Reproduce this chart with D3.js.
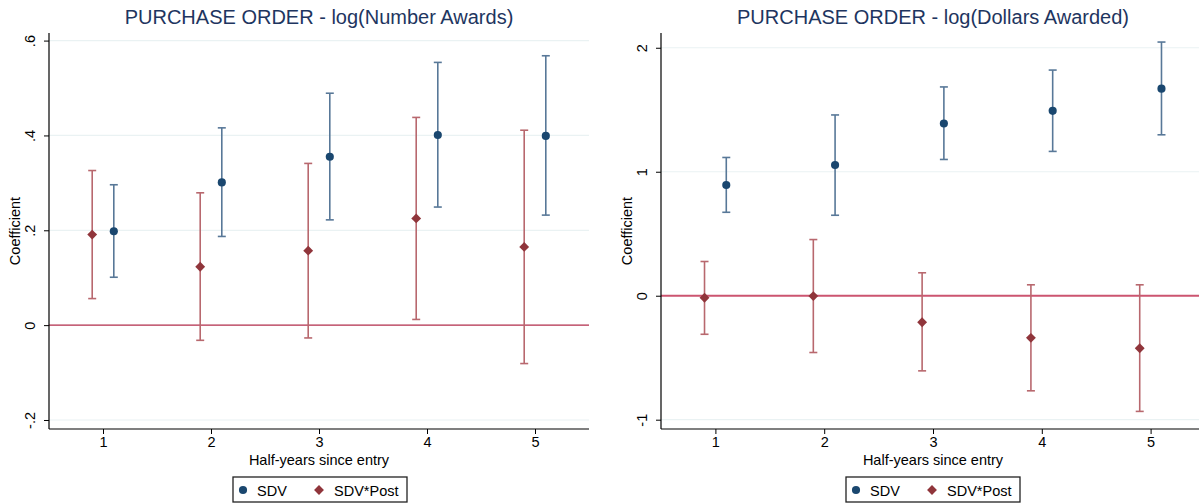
<!DOCTYPE html>
<html><head><meta charset="utf-8">
<script src="https://cdn.jsdelivr.net/npm/d3@7"></script>
<style>
html,body{margin:0;padding:0;background:#fff;}
svg{display:block;font-family:"Liberation Sans",Arial,sans-serif;}
</style></head>
<body>
<svg id="chart" width="1199" height="504"></svg>
<script>
// ---- data ----
const halfYears = [1, 2, 3, 4, 5];
const seriesNames = ["SDV", "SDV*Post"];

// Panel 1: log(Number Awards)
const numSdv   = [0.198, 0.301, 0.355, 0.401, 0.399];
const numSdvLo = [0.101, 0.187, 0.222, 0.249, 0.232];
const numSdvHi = [0.296, 0.416, 0.489, 0.554, 0.568];
const numPost   = [0.191, 0.123, 0.157, 0.225, 0.165];
const numPostLo = [0.056, -0.032, -0.027, 0.012, -0.081];
const numPostHi = [0.326, 0.279, 0.341, 0.438, 0.411];
const numTicks = [-0.2, 0, 0.2, 0.4, 0.6];
const numTickLabels = ["-.2", "0", ".2", ".4", ".6"];

// Panel 2: log(Dollars Awarded)
const dolSdv   = [0.893, 1.054, 1.389, 1.491, 1.670];
const dolSdvLo = [0.673, 0.649, 1.099, 1.164, 1.298];
const dolSdvHi = [1.115, 1.458, 1.684, 1.820, 2.046];
const dolPost   = [-0.016, -0.003, -0.214, -0.340, -0.424];
const dolPostLo = [-0.311, -0.458, -0.606, -0.767, -0.933];
const dolPostHi = [0.276, 0.453, 0.185, 0.088, 0.088];
const dolTicks = [-1, 0, 1, 2];
const dolTickLabels = ["-1", "0", "1", "2"];

const titles = ["PURCHASE ORDER - log(Number Awards)", "PURCHASE ORDER - log(Dollars Awarded)"];
const xTitle = "Half-years since entry";
const yTitle = "Coefficient";

// ---- drawing ----
const svg = d3.select("#chart");
const NAVY = "#1a476f", MAROON = "#90353b";
const FS = 14.5;

function panel(o) {
  const g = svg.append("g");
  const x = d3.scaleLinear().domain([0.5, 5.5]).range([o.left, o.right]);
  const y = d3.scaleLinear().domain(o.yDomain).range([o.bottom, o.top]);

  // gridlines
  g.selectAll(".grid").data(o.ticks).enter().append("line")
    .attr("x1", o.left).attr("x2", o.right)
    .attr("y1", d => y(d)).attr("y2", d => y(d))
    .attr("stroke", "#eaf2f3").attr("stroke-width", 1.2);

  // zero reference line
  g.append("line").attr("x1", o.left).attr("x2", o.right)
    .attr("y1", y(0)).attr("y2", y(0))
    .attr("stroke", o.zeroColor).attr("stroke-width", o.zeroWidth);

  // y axis
  const ya = d3.axisLeft(y).tickValues(o.ticks).tickFormat((d, i) => o.tickLabels[i]).tickSize(5).tickPadding(4);
  const yg = g.append("g").attr("transform", `translate(${o.left},0)`).call(ya);
  yg.select(".domain").attr("d", `M0,${o.top}V${o.bottom}`).attr("stroke", "#000").attr("stroke-width", 1.2);
  yg.selectAll(".tick line").attr("stroke", "#000");
  yg.selectAll(".tick text")
    .attr("transform", "rotate(-90)")
    .attr("x", 0).attr("y", -14).attr("dy", 0)
    .attr("text-anchor", "middle")
    .attr("font-size", FS).attr("fill", "#000");

  // x axis
  const xa = d3.axisBottom(x).tickValues(halfYears).tickFormat(d3.format("d")).tickSize(5).tickPadding(3);
  const xg = g.append("g").attr("transform", `translate(0,${o.bottom})`).call(xa);
  xg.select(".domain").attr("d", `M${o.left},0H${o.right}`).attr("stroke", "#000").attr("stroke-width", 1.2);
  xg.selectAll(".tick line").attr("stroke", "#000");
  xg.selectAll(".tick text").attr("font-size", FS).attr("fill", "#000");

  // titles
  g.append("text").attr("x", (o.left + o.right) / 2).attr("y", 24)
    .attr("text-anchor", "middle").attr("font-size", 20).attr("fill", "#1e3560")
    .text(o.title);
  g.append("text").attr("x", (o.left + o.right) / 2).attr("y", 465)
    .attr("text-anchor", "middle").attr("font-size", FS).attr("fill", "#000")
    .text(xTitle);
  g.append("text").attr("transform", `translate(${o.left - 29},${(o.top + o.bottom) / 2}) rotate(-90)`)
    .attr("text-anchor", "middle").attr("font-size", FS).attr("fill", "#000")
    .text(yTitle);

  const series = [
    {vals: o.sdv, lo: o.sdvLo, hi: o.sdvHi, off: 0.1, color: NAVY, ci: "#587898", shape: "circle"},
    {vals: o.post, lo: o.postLo, hi: o.postHi, off: -0.1, color: MAROON, ci: "#b8686e", shape: "diamond"}
  ];
  series.forEach(s => {
    const pts = halfYears.map((h, i) => ({h, v: s.vals[i], lo: s.lo[i], hi: s.hi[i]}));
    const sg = g.append("g");
    sg.selectAll(".ci").data(pts).enter().append("line")
      .attr("x1", d => x(d.h + s.off)).attr("x2", d => x(d.h + s.off))
      .attr("y1", d => y(d.lo)).attr("y2", d => y(d.hi))
      .attr("stroke", s.ci).attr("stroke-width", 1.6);
    ["lo", "hi"].forEach(k => {
      sg.selectAll(".cap" + k).data(pts).enter().append("line")
        .attr("x1", d => x(d.h + s.off) - 4).attr("x2", d => x(d.h + s.off) + 4)
        .attr("y1", d => y(d[k])).attr("y2", d => y(d[k]))
        .attr("stroke", s.ci).attr("stroke-width", 1.6);
    });
    const sym = s.shape === "circle" ? d3.symbol(d3.symbolCircle, 52) : d3.symbol(d3.symbolDiamond2, 62);
    sg.selectAll(".pt").data(pts).enter().append("path")
      .attr("d", sym)
      .attr("transform", d => `translate(${x(d.h + s.off)},${y(d.v)})`)
      .attr("fill", s.color);
  });

  // legend
  const lg = g.append("g");
  lg.append("rect").attr("x", o.legX).attr("y", 477).attr("width", 174).attr("height", 25)
    .attr("fill", "#fff").attr("stroke", "#222").attr("stroke-width", 1.3);
  lg.append("path").attr("d", d3.symbol(d3.symbolCircle, 52)).attr("transform", `translate(${o.legX + 10},490)`).attr("fill", NAVY);
  lg.append("text").attr("x", o.legX + 24).attr("y", 495.5).attr("font-size", FS).text(seriesNames[0]);
  lg.append("path").attr("d", d3.symbol(d3.symbolDiamond2, 62)).attr("transform", `translate(${o.legX + 86},490)`).attr("fill", MAROON);
  lg.append("text").attr("x", o.legX + 101).attr("y", 495.5).attr("font-size", FS).text(seriesNames[1]);
}

panel({left: 49, right: 589, top: 33, bottom: 429, yDomain: [-0.219, 0.616],
  ticks: numTicks, tickLabels: numTickLabels, title: titles[0],
  sdv: numSdv, sdvLo: numSdvLo, sdvHi: numSdvHi, post: numPost, postLo: numPostLo, postHi: numPostHi,
  zeroColor: "#b8304f", zeroWidth: 1.4, legX: 233});

panel({left: 661, right: 1205, top: 33, bottom: 429, yDomain: [-1.075, 2.119],
  ticks: dolTicks, tickLabels: dolTickLabels, title: titles[1],
  sdv: dolSdv, sdvLo: dolSdvLo, sdvHi: dolSdvHi, post: dolPost, postLo: dolPostLo, postHi: dolPostHi,
  zeroColor: "#cc5570", zeroWidth: 2, legX: 846});
</script>
</body></html>
